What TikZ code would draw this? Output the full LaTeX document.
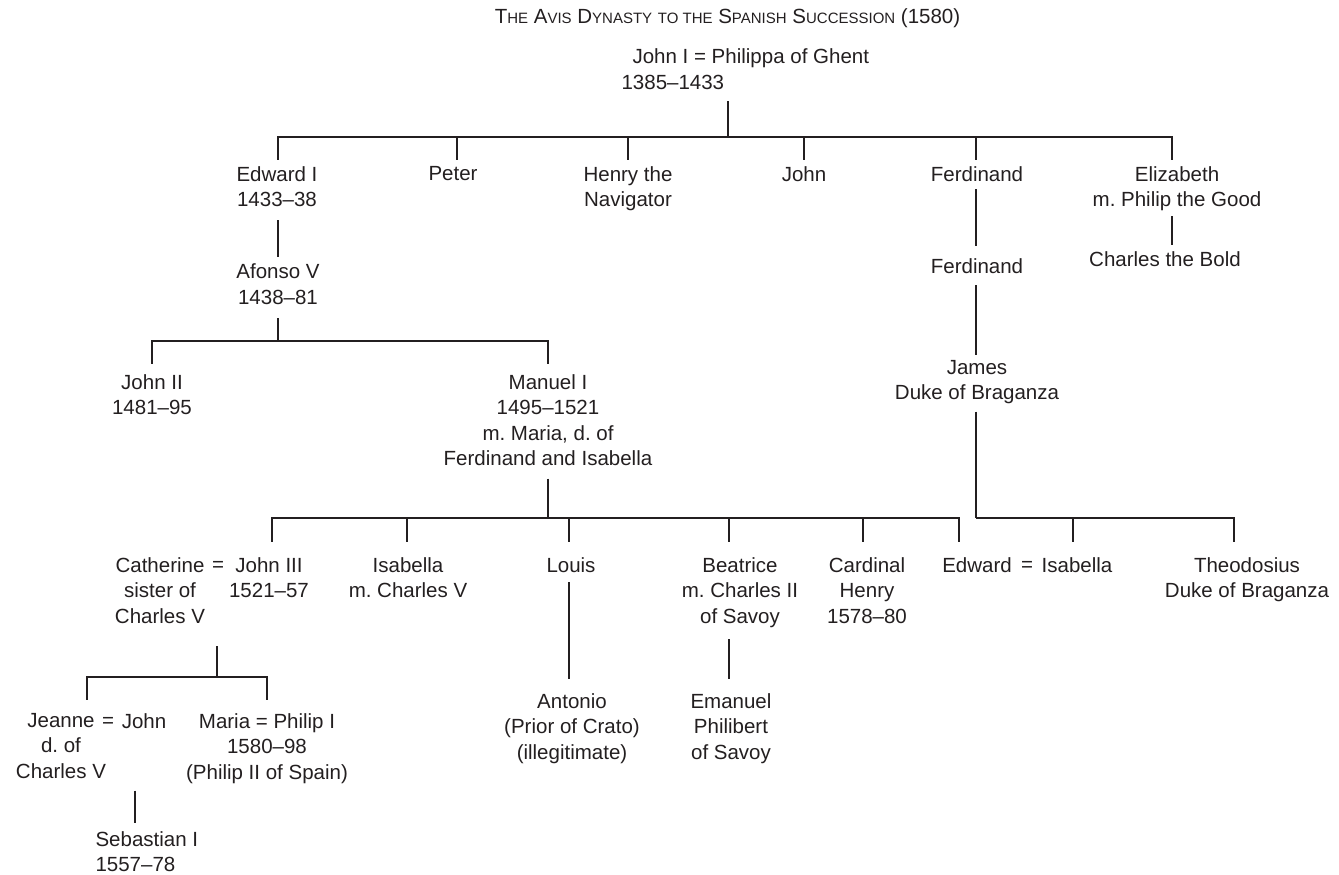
\documentclass[tikz,border=0pt]{standalone}
\usepackage{fontspec}
\setmainfont{Liberation Sans}
\frenchspacing
\definecolor{ink}{HTML}{231F20}
\newcommand{\smc}[1]{{\fontsize{15}{18}\selectfont #1}}
\begin{document}
\begin{tikzpicture}[x=1pt, y=-1pt, line width=1.1pt, color=ink,
    per/.style={font=\fontsize{20.5}{25.5}\selectfont, align=center, inner sep=0pt, anchor=north, text=ink},
    eq/.style={font=\fontsize{20.5}{25.5}\selectfont, inner sep=0pt, anchor=base, text=ink}]
    \useasboundingbox (0,0) rectangle (1339,875);
    %title
    \node[eq] (title) at (727.5,24) {T\smc{HE} A\smc{VIS} D\smc{YNASTY} \smc{TO THE} S\smc{PANISH} S\smc{UCCESSION} (1580)};
    \node[per, anchor=north west] (john1) at (632,47.6) {John I = Philippa of Ghent};
    \node[per, anchor=north west] (john1yr) at (621,74.6) {1385--1433};
    \coordinate (top) at (728,137);
    % children of John I
    \node[per] (edw) at (277,165.6) {Edward I\\1433--38};
    \node[per] (peter) at (453,165.6) {Peter};
    \node[per] (henry) at (628,165.6) {Henry the\\Navigator};
    \node[per] (john) at (804,165.6) {John};
    \node[per] (ferd) at (977,165.6) {Ferdinand};
    \node[per] (eliz) at (1177,165.6) {Elizabeth\\m. Philip the Good};
    \draw[shorten <=11pt] (john1yr.south -| top) -- (top);
    \draw[shorten >=5.6pt] (top) -| ([xshift=1pt]edw.north);
    \draw[shorten >=5.6pt] (top) -| ([xshift=4pt]peter.north);
    \draw[shorten >=5.6pt] (top) -| (henry.north);
    \draw[shorten >=5.6pt] (top) -| (john.north);
    \draw[shorten >=5.6pt] (top) -| ([xshift=-1pt]ferd.north);
    \draw[shorten >=5.6pt] (top) -| ([xshift=-5pt]eliz.north);
    % Edward I line
    \node[per] (afo) at (278,263.6) {Afonso V\\1438--81};
    \draw[shorten <=13pt, shorten >=6.6pt] ([xshift=1pt]edw.south) -- (afo.north);
    \coordinate (b2) at (278,341);
    \node[per] (john2) at (152,374) {John II\\1481--95};
    \node[per] (manuel) at (548,374) {Manuel I\\1495--1521\\m. Maria, d. of\\Ferdinand and Isabella};
    \draw[shorten <=13pt] (afo.south) -- (b2);
    \draw[shorten >=10pt] (b2) -| (john2.north);
    \draw[shorten >=10pt] (b2) -| (manuel.north);
    % children of Manuel I
    \coordinate (b3) at (548,518);
    \node[per] (cath) at (160,556.6) {Catherine\\sister of\\Charles V};
    \node[eq] (eq1) at (218,571.3) {=};
    \node[per] (john3) at (269,556.6) {John III\\1521--57};
    \node[per] (isab) at (408,556.6) {Isabella\\m. Charles V};
    \node[per] (louis) at (571,556.6) {Louis};
    \node[per] (beat) at (740,556.6) {Beatrice\\m. Charles II\\of Savoy};
    \node[per] (card) at (867,556.6) {Cardinal\\Henry\\1578--80};
    \node[per] (edw2) at (977,556.6) {Edward};
    \node[eq] (eq2) at (1027,571.3) {=};
    \node[per] (isab2) at (1077,556.6) {Isabella};
    \node[per] (theo) at (1247,556.6) {Theodosius\\Duke of Braganza};
    \draw[shorten <=12pt] (manuel.south) -- (b3);
    \draw[shorten >=15pt] (b3) -| ([xshift=3pt]john3.north);
    \draw[shorten >=15pt] (b3) -| ([xshift=-1pt]isab.north);
    \draw[shorten >=15pt] (b3) -| ([xshift=-2pt]louis.north);
    \draw[shorten >=15pt] (b3) -| ([xshift=-11pt]beat.north);
    \draw[shorten >=15pt] (b3) -| ([xshift=-4pt]card.north);
    \draw[shorten >=15pt] (b3) -| ([xshift=-18pt]edw2.north);
    % Ferdinand line
    \node[per] (ferd2) at (977,257.6) {Ferdinand};
    \node[per] (james) at (977,359.6) {James\\Duke of Braganza};
    \coordinate (b4) at (976,518);
    \draw[shorten <=7.7pt, shorten >=11.6pt] ([xshift=-1pt]ferd.south) -- ([xshift=-1pt]ferd2.north);
    \draw[shorten <=11.7pt, shorten >=4.6pt] ([xshift=-1pt]ferd2.south) -- ([xshift=-1pt]james.north);
    \draw[shorten <=7pt] ([xshift=-1pt]james.south) -- (b4);
    \draw[shorten >=15pt] (b4) -| ([xshift=-4pt]isab2.north);
    \draw[shorten >=15pt] (b4) -| ([xshift=-13pt]theo.north);
    % Elizabeth
    \node[per] (charl) at (1165,250.6) {Charles the Bold};
    \draw[shorten <=4.9pt, shorten >=5.6pt] ([xshift=-5pt]eliz.south) -- ([xshift=7pt]charl.north);
    % John III and Catherine
    \coordinate (b5) at (217,677);
    \node[per] (jeanne) at (61,712.6) {Jeanne\\d. of\\Charles V};
    \node[eq] (eq3) at (108,727.3) {=};
    \node[per] (jn) at (144,712.6) {John};
    \node[per] (maria) at (267,712.6) {Maria = Philip I\\1580--98\\(Philip II of Spain)};
    \draw[shorten <=22.7pt] (cath.south -| b5) -- (b5);
    \draw[shorten >=12.6pt] (b5) -| ([xshift=26pt]jeanne.north);
    \draw[shorten >=12.6pt] (b5) -| (maria.north);
    \node[per, anchor=north west, align=left] (seb) at (95,831) {Sebastian I\\1557--78};
    \draw[shorten <=11.7pt, shorten >=8pt] ([xshift=74pt]jeanne.south) -- ([xshift=40pt]seb.north west);
    % Louis and Beatrice
    \node[per] (anto) at (572,692.6) {Antonio\\(Prior of Crato)\\(illegitimate)};
    \node[per] (eman) at (731,692.6) {Emanuel\\Philibert\\of Savoy};
    \draw[shorten <=9.7pt, shorten >=13.6pt] ([xshift=-2pt]louis.south) -- ([xshift=-3pt]anto.north);
    \draw[shorten <=11.4pt, shorten >=13.6pt] ([xshift=-11pt]beat.south) -- ([xshift=-2pt]eman.north);
\end{tikzpicture}
\end{document}
